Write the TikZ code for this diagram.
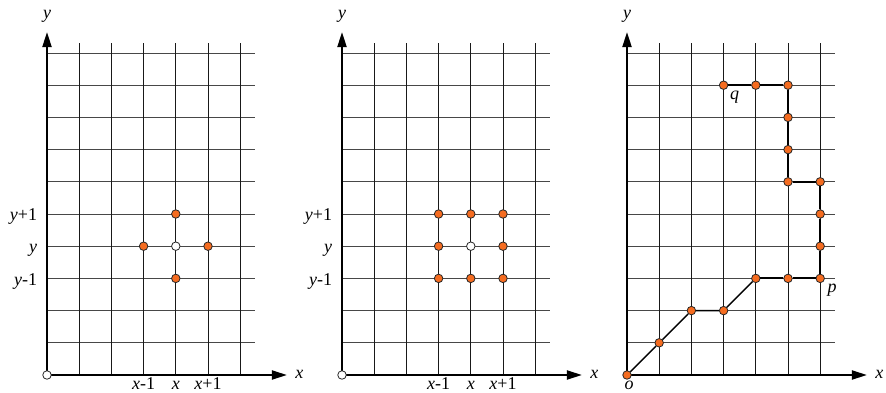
\documentclass[tikz,border=0pt]{standalone}
\usepackage{fontspec}
\setmainfont{Liberation Serif}
\usetikzlibrary{arrows.meta}
\definecolor{dotorange}{RGB}{245,108,32}
\tikzset{
  hgrid/.style={line width=0.9pt, draw=black!72},
  vgrid/.style={line width=0.9pt, draw=black!90},
  axisline/.style={line width=2.2pt, -{Triangle[length=15pt,width=9pt]}},
  odot/.style={circle, minimum size=8.5pt, inner sep=0pt, fill=dotorange, draw=black!85, line width=0.8pt},
  wdot/.style={circle, minimum size=8.5pt, inner sep=0pt, fill=white, draw=black!85, line width=0.8pt},
  lab/.style={inner sep=0pt, font=\fontsize{18}{20}\selectfont},
  thinpath/.style={line width=1.4pt},
  thickpath/.style={line width=2.1pt},
}
\newcommand{\gridpanel}[1]{%
  \foreach \j in {1,...,10} \draw[hgrid] (0,\j) -- (6.47,\j);
  \foreach \i in {1,...,6} \draw[vgrid] (\i,0) -- (\i,10.3);
  \coordinate (O#1) at (0,0);
  \coordinate (Y#1) at (0,10.65);
  \coordinate (X#1) at (7.45,0);
  \draw[axisline] (O#1) -- (Y#1);
  \draw[axisline] (O#1) -- (X#1);
  \node[lab, anchor=base] (ylab#1) at (0,11.06) {\textit{y}};
  \node[lab, anchor=base] (xlab#1) at (7.84,-0.12) {\textit{x}};
}
\newcommand{\ticklabels}[1]{%
  \node[lab, anchor=base east] (ty1#1) at (-0.3,4.79) {\textit{y}+1};
  \node[lab, anchor=base east] (ty0#1) at (-0.3,3.79) {\textit{y}};
  \node[lab, anchor=base east] (tym#1) at (-0.3,2.79) {\textit{y}-1};
  \node[lab, anchor=base] (txm#1) at (3,-0.46) {\textit{x}-1};
  \node[lab, anchor=base] (tx0#1) at (4,-0.46) {\textit{x}};
  \node[lab, anchor=base] (tx1#1) at (5,-0.46) {\textit{x}+1};
}
\begin{document}
\begin{tikzpicture}[x=1pt,y=-1pt]
\useasboundingbox (0,0) rectangle (886,393);
% Panel 1
\begin{scope}[shift={(47,375)}, x=32.2pt, y=32.2pt]
  \gridpanel{a}
  \ticklabels{a}
  \node[wdot] (oa) at (0,0) {};
  \node[wdot] (ca) at (4,4) {};
  \node[odot] (la) at (3,4) {};
  \node[odot] (ra) at (5,4) {};
  \node[odot] (ua) at (4,5) {};
  \node[odot] (da) at (4,3) {};
\end{scope}
% Panel 2
\begin{scope}[shift={(342,375)}, x=32.2pt, y=32.2pt]
  \gridpanel{b}
  \ticklabels{b}
  \node[wdot] (ob) at (0,0) {};
  \node[wdot] (cb) at (4,4) {};
  \foreach \i/\j [count=\k] in {3/3,4/3,5/3,3/4,5/4,3/5,4/5,5/5}
    \node[odot] (nb\k) at (\i,\j) {};
\end{scope}
% Panel 3
\begin{scope}[shift={(627,375)}, x=32.2pt, y=32.2pt]
  \gridpanel{c}
  \foreach \i/\j [count=\k from 0] in {0/0,1/1,2/2,3/2,4/3,5/3,6/3,6/4,6/5,6/6,5/6,5/7,5/8,5/9,4/9,3/9}
    \node[odot] (p\k) at (\i,\j) {};
  \draw[thinpath] (p0) -- (p1) -- (p2) -- (p3) -- (p4);
  \draw[thickpath] (p4) -- (p5) -- (p6) -- (p7) -- (p8) -- (p9) -- (p10) -- (p11) -- (p12) -- (p13) -- (p14) -- (p15);
  \node[lab] (olab) at ([xshift=2pt,yshift=-10pt]p0) {\textit{o}};
  \node[lab] (plab) at ([xshift=12pt,yshift=-12pt]p6) {\textit{p}};
  \node[lab] (qlab) at ([xshift=11pt,yshift=-12pt]p15) {\textit{q}};
\end{scope}
\end{tikzpicture}
\end{document}
